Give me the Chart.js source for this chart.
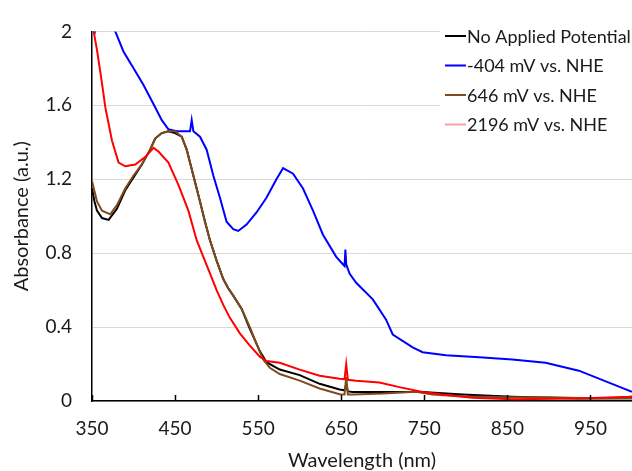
<!DOCTYPE html>
<html>
<head>
<meta charset="utf-8">
<script src="https://cdn.jsdelivr.net/npm/chart.js@4/dist/chart.umd.min.js"></script>
<style>
html,body{margin:0;padding:0;background:#fff;}
#wrap{width:632px;height:471px;}
</style>
</head>
<body>
<div id="wrap"><canvas id="c" width="632" height="471"></canvas></div>
<script>
// ---- data ----
const seriesLabels = ["No Applied Potential", "-404 mV vs. NHE", "646 mV vs. NHE", "2196 mV vs. NHE"];
const xTickValues = [350, 450, 550, 650, 750, 850, 950];

const blackWl  = [350,353,356,362,370,380,390,400,410,420,426,434,442,450,458,464,472,480,486,492,500,508,514,520,530,540,552,560,576,600,624,648,654,656,658,664,696,748,796,856,936,1000];
const blackAbs = [1.15,1.08,1.03,0.99,0.98,1.04,1.14,1.21,1.28,1.36,1.42,1.45,1.46,1.45,1.43,1.36,1.22,1.08,0.97,0.87,0.76,0.66,0.61,0.57,0.50,0.39,0.27,0.21,0.17,0.14,0.093,0.062,0.058,0.09,0.052,0.049,0.049,0.049,0.035,0.023,0.014,0.015];

const blueWl  = [350,353,357,365,372,378,388,400,412,426,434,442,452,460,468,470,472,480,488,496,504,512,520,526,536,548,560,572,580,592,604,616,628,644,652,654,655,656,660,668,688,704,712,736,748,776,816,856,896,936,976,1000];
const blueAbs = [2.05,1.99,2.05,2.12,2.08,2.0,1.89,1.80,1.71,1.59,1.52,1.47,1.46,1.46,1.46,1.52,1.46,1.43,1.36,1.22,1.10,0.97,0.93,0.92,0.955,1.02,1.10,1.20,1.26,1.23,1.15,1.03,0.90,0.78,0.74,0.73,0.82,0.74,0.69,0.64,0.55,0.44,0.36,0.29,0.264,0.248,0.237,0.225,0.207,0.164,0.093,0.05];

const brownWl  = [350,356,362,372,380,390,400,410,420,426,434,442,450,458,464,472,480,486,492,500,508,514,520,530,540,548,556,564,576,600,624,648,654,656,658,664,700,740,760,800,850,900,950,1000];
const brownAbs = [1.19,1.08,1.03,1.01,1.06,1.15,1.22,1.28,1.36,1.42,1.45,1.46,1.46,1.43,1.36,1.22,1.08,0.97,0.87,0.76,0.66,0.61,0.57,0.50,0.40,0.31,0.225,0.18,0.146,0.11,0.068,0.037,0.035,0.13,0.035,0.035,0.04,0.05,0.035,0.025,0.02,0.02,0.015,0.015];

const redWl  = [350,352,356,362,366,374,382,390,402,414,424,430,442,454,466,476,484,492,500,508,516,528,540,552,560,576,600,624,648,654,656,658,668,696,720,748,776,808,856,936,996,1000];
const redAbs = [2.05,2.0,1.9,1.72,1.59,1.41,1.29,1.27,1.28,1.32,1.37,1.35,1.29,1.17,1.03,0.87,0.78,0.69,0.60,0.52,0.45,0.366,0.30,0.24,0.216,0.207,0.17,0.137,0.12,0.118,0.20,0.115,0.11,0.10,0.075,0.049,0.032,0.018,0.009,0.014,0.023,0.025];

// ---- styles ----
const lineColors   = ["#000000", "#0000ff", "#7f4a1c", "#ff0000"];
const legendColors = ["#000000", "#0000ff", "#7f4a1c", "#f4a3a3"];
const drawOrder    = [3, 4, 2, 1]; // lower = drawn on top

const pairs = (xs, ys) => xs.map((x, i) => ({x: x, y: ys[i]}));
const seriesData = [pairs(blackWl, blackAbs), pairs(blueWl, blueAbs), pairs(brownWl, brownAbs), pairs(redWl, redAbs)];

Chart.defaults.font.family = "Lato, 'Open Sans', sans-serif";
Chart.defaults.color = "#1a1a1a";

const innerTicks = {
  id: "innerTicks",
  afterDatasetsDraw(chart) {
    const ctx = chart.ctx, xs = chart.scales.x, area = chart.chartArea;
    ctx.save();
    ctx.strokeStyle = "#000";
    ctx.lineWidth = 1.5;
    xTickValues.forEach(v => {
      const px = Math.round(xs.getPixelForValue(v)) + 0.5;
      ctx.beginPath();
      ctx.moveTo(px, area.bottom);
      ctx.lineTo(px, area.bottom - 6);
      ctx.stroke();
    });
    ctx.restore();
  }
};

const boxLegend = {
  id: "boxLegend",
  afterDraw(chart) {
    const ctx = chart.ctx;
    ctx.save();
    ctx.fillStyle = "#ffffff";
    ctx.fillRect(440, 18, 192, 124);
    ctx.font = "18px Lato, 'Open Sans', sans-serif";
    ctx.textBaseline = "middle";
    ctx.textAlign = "left";
    chart.data.datasets.forEach((ds, i) => {
      const y = 36 + i * 29.5;
      ctx.strokeStyle = legendColors[i];
      ctx.lineWidth = 2;
      ctx.beginPath();
      ctx.moveTo(445, y);
      ctx.lineTo(466, y);
      ctx.stroke();
      ctx.fillStyle = "#1a1a1a";
      ctx.fillText(ds.label, 467, y + 1);
    });
    ctx.restore();
  }
};

new Chart(document.getElementById("c"), {
  type: "line",
  data: {
    datasets: seriesLabels.map((lab, i) => ({
      label: lab,
      data: seriesData[i],
      borderColor: lineColors[i],
      backgroundColor: lineColors[i],
      borderWidth: 2,
      pointRadius: 0,
      tension: 0,
      fill: false,
      order: drawOrder[i]
    }))
  },
  options: {
    responsive: false,
    animation: false,
    devicePixelRatio: 1,
    layout: {padding: {top: 22, right: 0, left: 0, bottom: 0}},
    plugins: {legend: {display: false}, tooltip: {enabled: false}},
    scales: {
      x: {
        type: "linear",
        min: 350,
        max: 1000,
        afterBuildTicks: s => { s.ticks = xTickValues.map(v => ({value: v})); },
        afterFit: s => { s.height = 70; },
        grid: {display: false, drawTicks: false},
        border: {color: "#000", width: 1.5},
        ticks: {padding: 16, maxRotation: 0, autoSkip: false, font: {size: 19}, color: "#1a1a1a"},
        title: {display: true, text: "Wavelength (nm)", font: {size: 20, lineHeight: 1.0}, padding: {top: 0, bottom: 0}, color: "#1a1a1a"}
      },
      y: {
        type: "linear",
        min: 0,
        max: 2,
        afterFit: s => { s.width = 92; },
        ticks: {stepSize: 0.4, padding: 20, font: {size: 19}, color: "#1a1a1a",
                callback: v => String(Math.round(v * 10) / 10)},
        grid: {color: "#d9d9d9", lineWidth: 1, drawTicks: false},
        border: {color: "#000", width: 1.5},
        title: {display: true, text: "Absorbance (a.u.)", font: {size: 20, lineHeight: 1.0}, padding: {top: 12, bottom: 0}, color: "#1a1a1a"}
      }
    }
  },
  plugins: [innerTicks, boxLegend]
});
</script>
</body>
</html>
